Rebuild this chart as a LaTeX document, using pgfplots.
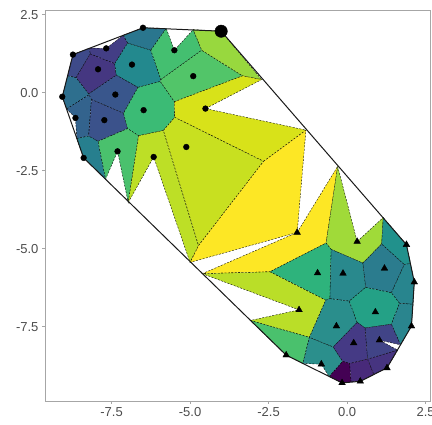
\documentclass[border=0pt]{standalone}
\usepackage{fontspec}
\setmainfont{Liberation Sans}
\usepackage{pgfplots}
\pgfplotsset{compat=1.18}
\definecolor{cA}{HTML}{2A768E}
\definecolor{cB}{HTML}{433E85}
\definecolor{cC}{HTML}{3E4A89}
\definecolor{cD}{HTML}{453781}
\definecolor{cE}{HTML}{23898E}
\definecolor{cF}{HTML}{39568C}
\definecolor{cG}{HTML}{2E6F8E}
\definecolor{cI}{HTML}{33638D}
\definecolor{cJ}{HTML}{3B528B}
\definecolor{cH}{HTML}{3BBB75}
\definecolor{cK}{HTML}{277F8E}
\definecolor{cL}{HTML}{4AC16D}
\definecolor{cM}{HTML}{BDDF26}
\definecolor{cN}{HTML}{44BF70}
\definecolor{cO}{HTML}{52C569}
\definecolor{cZ}{HTML}{98D83E}
\definecolor{cQ}{HTML}{D8E219}
\definecolor{cR}{HTML}{C8E020}
\definecolor{cTa}{HTML}{FDE725}
\definecolor{cTb}{HTML}{A0DA39}
\definecolor{cTc}{HTML}{21918C}
\definecolor{cTd}{HTML}{2EB37C}
\definecolor{cTe}{HTML}{29898D}
\definecolor{cTf}{HTML}{2B7C8E}
\definecolor{cTg}{HTML}{28858E}
\definecolor{cTh}{HTML}{BADE28}
\definecolor{cTi}{HTML}{24A186}
\definecolor{cTj}{HTML}{2A8E8C}
\definecolor{cTk}{HTML}{2A858E}
\definecolor{cTl}{HTML}{453A85}
\definecolor{cTm}{HTML}{414487}
\definecolor{cTn}{HTML}{4AC16D}
\definecolor{cTo}{HTML}{2B8F8C}
\definecolor{cTp}{HTML}{463480}
\definecolor{cTq}{HTML}{440154}
\definecolor{cTr}{HTML}{482A7A}
\pgfplotsset{cell/.style={draw=black, line width=0.35pt, dash pattern=on 2pt off 1.4pt}}
\begin{document}
\begin{tikzpicture}
\path[use as bounding box] (-45pt,-24pt) rectangle (387pt,401pt);
\begin{axis}[
  at={(0pt,0pt)}, anchor=south west,
  scale only axis, width=385pt, height=391pt,
  xmin=-9.62, xmax=2.64, ymin=-9.88, ymax=2.65,
  xtick={-7.5,-5,-2.5,0,2.5}, ytick={-7.5,-5,-2.5,0,2.5},
  tick pos=left, tick align=outside, major tick length=3pt,
  axis line style={draw=black!35, line width=0.8pt},
  every tick/.style={draw=black!35, line width=0.8pt},
  ticklabel style={font=\fontsize{13}{15}\selectfont, text=black!70},
  /pgf/number format/fixed, /pgf/number format/fixed zerofill,
  /pgf/number format/precision=1, /pgf/number format/assume math mode=true,
]
% top-left cluster (circles)
\addplot[cell, fill=cA] coordinates {(-7.13,1.84) (-6.50,2.08) (-5.76,2.06) (-6.25,1.36) (-6.99,1.59)} -- cycle;
\addplot[cell, fill=cB] coordinates {(-8.18,1.24) (-8.21,1.43) (-7.67,1.42) (-7.13,1.84) (-6.99,1.59) (-7.40,0.93)} -- cycle;
\addplot[cell, fill=cC] coordinates {(-8.73,1.22) (-8.21,1.43) (-8.18,1.24) (-8.63,0.48) (-8.90,0.54)} -- cycle;
\addplot[cell, fill=cD] coordinates {(-8.63,0.48) (-8.18,1.24) (-7.40,0.93) (-7.35,0.56) (-8.23,-0.04)} -- cycle;
\addplot[cell, fill=cE] coordinates {(-7.40,0.93) (-6.99,1.59) (-6.25,1.36) (-5.93,0.42) (-5.95,0.36) (-6.66,0.17) (-7.35,0.56)} -- cycle;
\addplot[cell, fill=cF] coordinates {(-7.35,0.56) (-6.66,0.17) (-7.12,-0.66) (-8.14,-0.22) (-8.22,-0.07) (-8.23,-0.04)} -- cycle;
\addplot[cell, fill=cG] coordinates {(-8.90,0.54) (-8.63,0.48) (-8.23,-0.04) (-8.22,-0.07) (-8.93,-0.52) (-9.07,-0.13)} -- cycle;
\addplot[cell, fill=cI] coordinates {(-8.93,-0.52) (-8.22,-0.07) (-8.14,-0.22) (-8.23,-1.39) (-8.61,-1.47) (-8.65,-0.81)} -- cycle;
\addplot[cell, fill=cJ] coordinates {(-8.14,-0.22) (-7.12,-0.66) (-6.99,-1.15) (-7.93,-1.56) (-8.23,-1.39)} -- cycle;
\addplot[cell, fill=cH] coordinates {(-6.66,0.17) (-5.95,0.36) (-5.50,-0.29) (-5.49,-0.79) (-5.85,-1.21) (-6.64,-1.38) (-6.99,-1.15) (-7.12,-0.66)} -- cycle;
\addplot[cell, fill=cK] coordinates {(-8.61,-1.47) (-8.23,-1.39) (-7.93,-1.56) (-7.69,-2.77) (-8.39,-2.09)} -- cycle;
\addplot[cell, fill=cL] coordinates {(-7.93,-1.56) (-6.99,-1.15) (-6.64,-1.38) (-6.97,-3.52) (-7.31,-1.88) (-7.69,-2.77)} -- cycle;
\addplot[cell, fill=cM] coordinates {(-6.64,-1.38) (-5.85,-1.21) (-4.73,-4.90) (-5.00,-5.44) (-6.16,-2.06) (-6.97,-3.52)} -- cycle;
\addplot[cell, fill=cN] coordinates {(-6.25,1.36) (-5.76,2.06) (-5.50,1.36) (-4.90,2.02) (-4.63,1.36) (-5.93,0.42)} -- cycle;
\addplot[cell, fill=cO] coordinates {(-5.93,0.42) (-4.63,1.36) (-3.33,0.54) (-5.50,-0.29) (-5.95,0.36)} -- cycle;
\addplot[cell, fill=cZ] coordinates {(-4.90,2.02) (-4.01,1.97) (-2.72,0.42) (-3.33,0.54) (-4.63,1.36)} -- cycle;
\addplot[cell, fill=cQ] coordinates {(-5.50,-0.29) (-3.33,0.54) (-2.72,0.42) (-4.51,-0.51) (-1.31,-1.20) (-2.66,-2.20) (-5.49,-0.79)} -- cycle;
\addplot[cell, fill=cR] coordinates {(-5.85,-1.21) (-5.49,-0.79) (-2.66,-2.20) (-4.73,-4.90)} -- cycle;
% middle and bottom-right cluster (triangles)
\addplot[cell, fill=cTa] coordinates {(-2.66,-2.20) (-1.31,-1.20) (-1.59,-4.48) (-5.00,-5.44) (-4.73,-4.90)} -- cycle;
\addplot[cell, fill=cTa] coordinates {(-1.59,-4.48) (-0.30,-2.36) (-0.67,-4.82) (-2.46,-5.74) (-4.61,-5.80)} -- cycle;
\addplot[cell, fill=cTb] coordinates {(-0.30,-2.36) (0.32,-4.77) (1.15,-4.00) (1.10,-4.85) (0.50,-5.46) (-0.51,-5.02) (-0.67,-4.82)} -- cycle;
\addplot[cell, fill=cTc] coordinates {(1.15,-4.00) (1.89,-4.87) (2.02,-5.47) (1.82,-5.51) (1.10,-4.85)} -- cycle;
\addplot[cell, fill=cTf] coordinates {(0.50,-5.46) (1.10,-4.85) (1.82,-5.51) (1.41,-6.41) (0.59,-6.24)} -- cycle;
\addplot[cell, fill=cTg] coordinates {(2.02,-5.47) (2.14,-6.07) (2.10,-6.78) (1.67,-6.75) (1.41,-6.41) (1.82,-5.51)} -- cycle;
\addplot[cell, fill=cTe] coordinates {(-0.51,-5.02) (0.50,-5.46) (0.59,-6.24) (0.07,-6.68) (-0.55,-6.60)} -- cycle;
\addplot[cell, fill=cTd] coordinates {(-0.67,-4.82) (-0.51,-5.02) (-0.55,-6.60) (-0.68,-6.65) (-2.46,-5.74)} -- cycle;
\addplot[cell, fill=cTh] coordinates {(-2.46,-5.74) (-0.68,-6.65) (-1.20,-7.84) (-3.08,-7.30) (-1.53,-6.96) (-4.61,-5.80)} -- cycle;
\addplot[cell, fill=cTn] coordinates {(-3.08,-7.30) (-1.20,-7.84) (-1.41,-8.68) (-1.94,-8.41)} -- cycle;
\addplot[cell, fill=cTo] coordinates {(-1.20,-7.84) (-0.44,-8.15) (-0.14,-8.61) (-0.57,-9.10) (-0.82,-8.70) (-1.41,-8.68)} -- cycle;
\addplot[cell, fill=cTj] coordinates {(-0.55,-6.60) (0.07,-6.68) (0.32,-7.36) (-0.44,-8.15) (-1.20,-7.84) (-0.68,-6.65)} -- cycle;
\addplot[cell, fill=cTi] coordinates {(0.59,-6.24) (1.41,-6.41) (1.67,-6.75) (1.41,-7.42) (0.57,-7.54) (0.32,-7.36) (0.07,-6.68)} -- cycle;
\addplot[cell, fill=cTk] coordinates {(2.10,-6.78) (2.05,-7.48) (1.70,-8.08) (1.41,-7.42) (1.67,-6.75)} -- cycle;
\addplot[cell, fill=cTm] coordinates {(0.57,-7.54) (1.41,-7.42) (1.70,-8.08) (1.03,-7.93) (1.61,-8.25) (0.65,-8.54)} -- cycle;
\addplot[cell, fill=cTp] coordinates {(1.61,-8.25) (1.27,-8.82) (0.85,-9.03) (0.65,-8.54)} -- cycle;
\addplot[cell, fill=cTl] coordinates {(0.32,-7.36) (0.57,-7.54) (0.65,-8.54) (0.08,-8.68) (-0.14,-8.61) (-0.44,-8.15)} -- cycle;
\addplot[cell, fill=cTq] coordinates {(-0.57,-9.10) (-0.14,-8.61) (0.08,-8.68) (0.13,-9.27) (-0.16,-9.30)} -- cycle;
\addplot[cell, fill=cTr] coordinates {(0.13,-9.27) (0.08,-8.68) (0.65,-8.54) (0.85,-9.03) (0.42,-9.25)} -- cycle;
% convex hull
\addplot[black!90, line width=1pt, line join=round] coordinates {(-6.50,2.08) (-4.01,1.97) (1.89,-4.87) (2.14,-6.07) (2.05,-7.48) (1.27,-8.82) (0.42,-9.25) (-0.16,-9.30) (-1.94,-8.41) (-8.39,-2.09) (-9.07,-0.13) (-8.73,1.22)} -- cycle;
% points
\addplot[only marks, mark=*, mark size=2.9pt, black] coordinates {(-6.50,2.08) (-7.67,1.42) (-8.73,1.22) (-7.93,0.75) (-6.85,0.90) (-7.38,-0.06) (-9.07,-0.13) (-6.48,-0.56) (-8.65,-0.81) (-7.73,-0.88) (-8.39,-2.09) (-7.31,-1.88) (-6.16,-2.06) (-5.50,1.36) (-4.90,0.53) (-4.51,-0.51) (-5.12,-1.74)};
\addplot[only marks, mark=*, mark size=6.2pt, black] coordinates {(-4.01,1.97)};
\addplot[only marks, mark=triangle*, mark size=3.8pt, black] coordinates {(-1.59,-4.48) (0.32,-4.77) (1.89,-4.87) (-0.94,-5.78) (-0.13,-5.79) (1.19,-5.63) (2.14,-6.07) (-1.53,-6.96) (0.90,-7.03) (-0.34,-7.48) (2.05,-7.48) (0.21,-8.02) (1.03,-7.93) (-1.94,-8.41) (-0.82,-8.70) (1.27,-8.82) (-0.16,-9.30) (0.42,-9.25)};
\end{axis}
\end{tikzpicture}
\end{document}
